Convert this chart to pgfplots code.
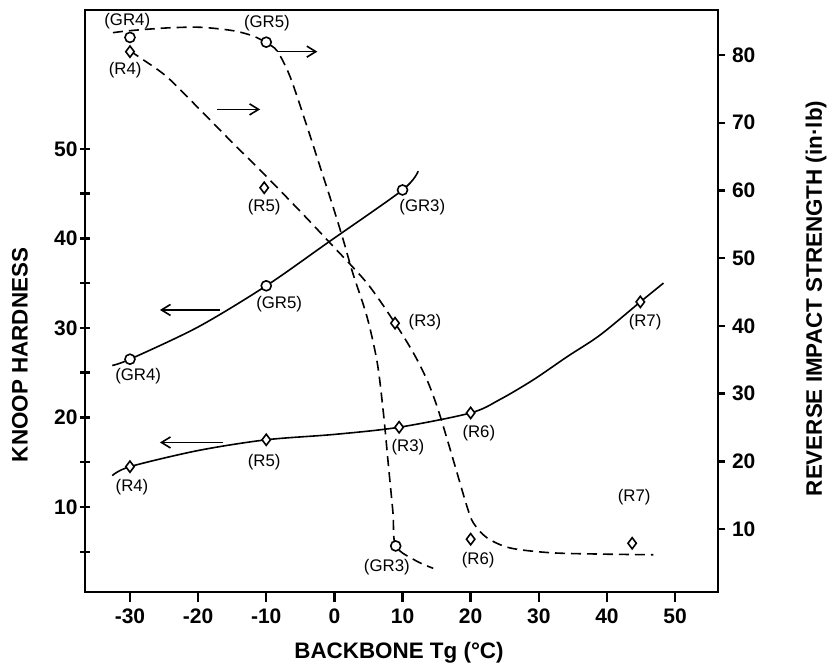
\documentclass[border=0pt]{standalone}
\usepackage{pgfplots}
\pgfplotsset{compat=1.18}
\usepackage{fontspec}
\setmainfont{Liberation Sans}
\usetikzlibrary{arrows.meta}
\begin{document}
\begin{tikzpicture}
\useasboundingbox (0,0) rectangle (414pt,334pt);
\tikzset{
  lbl/.style={font=\fontsize{8.4}{10}\selectfont, inner sep=0pt},
  arr/.style={line width=0.8pt, -{Straight Barb[length=4.5pt,width=5.5pt]}},
}
\pgfplotsset{
  every axis/.append style={
    scale only axis, width=316.5pt, height=291pt,
    at={(42.5pt,38pt)}, anchor=south west,
    xmin=-36.6, xmax=56.3,
    axis line style={line width=1.4pt},
    tick style={line width=1.2pt, black},
    ticklabel style={font=\fontsize{10.5}{12}\selectfont\bfseries},
  },
  sol/.style={black, line width=0.8pt, smooth, tension=0.5},
  dsh/.style={black, line width=0.8pt, smooth, tension=0.5, dash pattern=on 5pt off 3pt},
  circ/.style={only marks, mark=*, mark size=2.5pt, mark options={fill=white, draw=black, line width=0.8pt, solid}},
  diam/.style={only marks, mark=diamond*, mark size=2.8pt, mark options={fill=white, draw=black, line width=0.8pt, solid}},
}
% ---------- left axis: Knoop hardness ----------
\begin{axis}[
  ymin=0.5, ymax=65.5,
  xtick={-30,-20,...,50},
  xticklabels={-30,-20,-10,0,10,20,30,40,50},
  ytick={5,10,...,50},
  yticklabels={,10,,20,,30,,40,,50},
  yticklabel style={inner sep=1pt},
  xtick pos=bottom, ytick pos=left,
  xtick align=outside, ytick align=center,
  major tick length=5pt,
  clip=false,
]
% GR series (solid)
\addplot[sol] coordinates {(-32.6,25.8) (-30,26.5) (-20,30.1) (-10,34.7) (-1,39.5) (10,45.4) (12.3,47.5)};
% R series (solid)
\addplot[sol] coordinates {(-32.6,13.5) (-30,14.5) (-20,16.3) (-10,17.5) (0,18.1) (9.5,18.9) (20,20.5) (24.3,22) (29.2,24.2) (34.2,26.8) (39,29.2) (44.9,32.9) (48.3,35)};
\addplot[circ] coordinates {(-30,26.5) (-10,34.7) (10,45.4)};
\addplot[diam] coordinates {(-30,14.5) (-10,17.5) (9.5,18.9) (20,20.5) (44.9,32.9)};
% arrows
\draw[arr] (axis cs:-8.4,60.85) -- (axis cs:-2.5,60.85);
\draw[arr] (axis cs:-17.2,54.4) -- (axis cs:-10.9,54.4);
\draw[arr] (axis cs:-16.8,32) -- (axis cs:-25.6,32);
\draw[arr] (axis cs:-16.3,17.2) -- (axis cs:-25.6,17.2);
% labels
\node[lbl] at (axis cs:-30.4,64.2) {(GR4)};
\node[lbl] at (axis cs:-9.9,64.0) {(GR5)};
\node[lbl] at (axis cs:-30.7,58.8) {(R4)};
\node[lbl] at (axis cs:-10.3,43.5) {(R5)};
\node[lbl] at (axis cs:12.9,43.5) {(GR3)};
\node[lbl] at (axis cs:-8.1,32.6) {(GR5)};
\node[lbl] at (axis cs:13.3,30.6) {(R3)};
\node[lbl] at (axis cs:45.6,30.6) {(R7)};
\node[lbl] at (axis cs:-28.8,24.6) {(GR4)};
\node[lbl] at (axis cs:21.2,18.2) {(R6)};
\node[lbl] at (axis cs:10.8,16.7) {(R3)};
\node[lbl] at (axis cs:-10.3,15) {(R5)};
\node[lbl] at (axis cs:-29.7,12.2) {(R4)};
\node[lbl] at (axis cs:44,11.1) {(R7)};
\node[lbl] at (axis cs:21.1,4.1) {(R6)};
\node[lbl] at (axis cs:7.7,3.3) {(GR3)};
\end{axis}
% ---------- right axis: reverse impact strength ----------
\begin{axis}[
  ymin=0.7, ymax=86.65,
  hide x axis,
  axis y line*=right,
  ytick={10,20,...,80},
  yticklabels={10,20,30,40,50,60,70,80},
  ytick align=outside,
  major tick length=3.5pt,
]
% GR series (dashed)
\addplot[dsh] coordinates {(-32.5,83.3) (-30,83.6) (-24.6,84) (-19.7,84.1) (-14.9,83.6) (-11.9,82.8) (-10,81.8) (-8.4,80.6) (-6.5,76.8) (-4,69.4) (-2.1,63.5) (-0.2,57.6) (1.3,52.7) (2.7,47.8) (4.8,41.3) (6.3,34.5) (7.2,27.1) (7.9,19.7) (8.6,12.4) (9,7.5) (12,5.3) (14.5,4.2)};
% R series (dashed)
\addplot[dsh] coordinates {(-30,80.6) (-28.5,79.6) (-24.6,76.8) (-19.7,71.9) (-14.9,67) (-10.5,62.6) (-5,56.9) (-0.6,52.2) (4.8,46.3) (8.9,40.4) (11.6,36) (13.6,32) (15.1,28) (16.6,23.1) (18,18.3) (19.5,13.2) (20.4,10.9) (22.4,8.7) (25.8,7.2) (31.7,6.5) (39,6.3) (46.8,6.2)};
\addplot[circ] coordinates {(-30,82.6) (-10,81.9) (9,7.5)};
\addplot[diam] coordinates {(-30,80.5) (-10.3,60.4) (8.9,40.4) (20,8.5) (43.7,7.9)};
\end{axis}
% axis titles
\node[font=\fontsize{11.2}{13}\selectfont\bfseries] at (199.5pt,7.5pt) {BACKBONE Tg (°C)};
\node[font=\fontsize{11.2}{13}\selectfont\bfseries, rotate=90] at (10pt,156.5pt) {KNOOP HARDNESS};
\node[font=\fontsize{11.2}{13}\selectfont\bfseries, rotate=90] at (408pt,184.75pt) {REVERSE IMPACT STRENGTH (in·lb)};
\end{tikzpicture}
\end{document}
